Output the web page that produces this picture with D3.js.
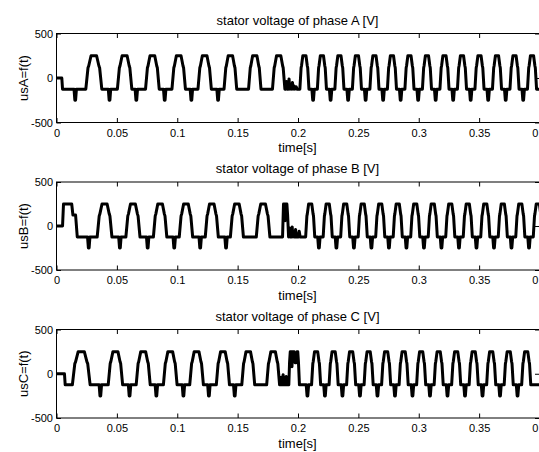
<!DOCTYPE html>
<html>
<head>
<meta charset="utf-8">
<script src="https://cdn.jsdelivr.net/npm/d3@7"></script>
<style>
  body { margin: 0; background: #fff; }
  text { font-family: "Liberation Sans", Arial, Helvetica, sans-serif; fill: #000; }
</style>
</head>
<body>
<div id="chart"></div>
<script>
const width = 539, height = 452;

const xTicks = [0, 0.05, 0.1, 0.15, 0.2, 0.25, 0.3, 0.35, 0.4];
const yTicks = [-500, 0, 500];
const titles = ["stator voltage of phase A [V]", "stator voltage of phase B [V]", "stator voltage of phase C [V]"];
const yLabels = ["usA=f(t)", "usB=f(t)", "usC=f(t)"];
const xLabel = "time[s]";

// voltage levels of the waveform
const vTop = 250, vMid = 125, vLow = -125, vDip = -250;

// phase A
const startA = [[0, 0], [0.0044, 0], [0.0050, -125]];
const peaksA = [0.0309, 0.0564, 0.0794, 0.1012, 0.1227, 0.1440, 0.1642, 0.1840,
  0.2053, 0.2198, 0.2343, 0.2488, 0.2633, 0.2778, 0.2923, 0.3068, 0.3213, 0.3358, 0.3503, 0.3648, 0.3793, 0.3938];
const dipsA = [0.0155, 0.0439, 0.0661, 0.0896, 0.1117, 0.1338,
  0.2125, 0.2270, 0.2415, 0.2560, 0.2705, 0.2850, 0.2995, 0.3140, 0.3285, 0.3430, 0.3575, 0.3720, 0.3865];
const burstA = [[0.1900, -125], [0.1906, -40], [0.1912, -125], [0.1920, -125], [0.1926, -10], [0.1932, -125],
  [0.1940, -80], [0.1946, -125], [0.1954, -50], [0.1960, -125], [0.1968, -90], [0.1975, -125], [0.1985, -100], [0.1992, -125]];

// phase B
const startB = [[0, 0], [0.0050, 0], [0.0058, 250], [0.0126, 250], [0.0136, 125], [0.0158, 125], [0.0172, -125]];
const peaksB = [0.0398, 0.0633, 0.0858, 0.1072, 0.1286, 0.1494, 0.1711,
  0.2101, 0.2246, 0.2391, 0.2536, 0.2681, 0.2826, 0.2971, 0.3116, 0.3261, 0.3406, 0.3551, 0.3696, 0.3841, 0.3986];
const dipsB = [0.0267, 0.0525, 0.0755, 0.0975, 0.1190, 0.1404,
  0.2173, 0.2318, 0.2463, 0.2608, 0.2753, 0.2898, 0.3043, 0.3188, 0.3333, 0.3478, 0.3623, 0.3768, 0.3913];
const burstB = [[0.1872, -125], [0.1880, 250], [0.1888, 250], [0.1893, 60], [0.1898, 250], [0.1908, 250], [0.1914, 125],
  [0.1922, -125], [0.1928, -20], [0.1934, -125], [0.1940, -60], [0.1946, -125], [0.1952, -10], [0.1958, -125],
  [0.1966, -70], [0.1972, -125], [0.1980, -40], [0.1987, -125], [0.1995, -90], [0.2002, -125], [0.2010, -60], [0.2018, -125]];

// phase C
const startC = [[0, 0], [0.0066, 0], [0.0072, -125]];
const peaksC = [0.0205, 0.0488, 0.0718, 0.0942, 0.1160, 0.1378, 0.1588, 0.1794,
  0.2150, 0.2295, 0.2440, 0.2585, 0.2730, 0.2875, 0.3020, 0.3165, 0.3310, 0.3455, 0.3600, 0.3745, 0.3890];
const dipsC = [0.0363, 0.0605, 0.0827, 0.1051, 0.1262, 0.1476,
  0.2078, 0.2223, 0.2368, 0.2513, 0.2658, 0.2803, 0.2948, 0.3093, 0.3238, 0.3383, 0.3528, 0.3673, 0.3818];
const burstC = [[0.1858, -125], [0.1864, -40], [0.1870, -125], [0.1877, -10], [0.1883, -125], [0.1890, -60],
  [0.1896, -125], [0.1903, -30], [0.1910, -125], [0.1918, -80], [0.1924, -125], [0.1930, 125], [0.1936, 250],
  [0.1946, 250], [0.1950, 80], [0.1955, 250], [0.1968, 250], [0.1975, 125], [0.1985, 125], [0.1992, 250],
  [0.1998, 250], [0.2004, 125], [0.2012, -125]];

// turn the read pulse / dip times into a polyline
function buildWave(start, peaks, dips, burst) {
  const pts = start.slice();
  peaks.forEach((c, i) => {
    let gap = i < peaks.length - 1 ? peaks[i + 1] - c : c - peaks[i - 1];
    if (i > 0) gap = Math.min(gap, c - peaks[i - 1]);
    const hw = 0.26 * gap, top = 0.09 * gap, d = hw - top;
    pts.push([c - hw, vLow], [c - hw + 0.42 * d, vMid - 10], [c - hw + 0.55 * d, vMid + 10], [c - top, vTop],
      [c + top, vTop], [c + hw - 0.55 * d, vMid + 10], [c + hw - 0.42 * d, vMid - 10], [c + hw, vLow]);
  });
  dips.forEach(c => {
    pts.push([c - 0.0010, vLow], [c - 0.0003, vDip], [c + 0.0003, vDip], [c + 0.0010, vLow]);
  });
  burst.forEach(p => pts.push(p));
  pts.sort((a, b) => a[0] - b[0]);
  pts.push([0.4, vLow]);
  return pts;
}

const waves = [
  buildWave(startA, peaksA, dipsA, burstA),
  buildWave(startB, peaksB, dipsB, burstB),
  buildWave(startC, peaksC, dipsC, burstC)
];

const left = 56.5, right = 539.5;
const panels = [[33.5, 122.5], [182, 270], [329.5, 418]];

const svg = d3.select('#chart').append('svg')
  .attr('width', width)
  .attr('height', height);

const xScale = d3.scaleLinear().domain([0, 0.4]).range([left, right]);

panels.forEach((p, i) => {
  const [top, bottom] = p;
  const yScale = d3.scaleLinear().domain([-500, 500]).range([bottom, top]);
  const g = svg.append('g');

  g.append('clipPath').attr('id', 'clip' + i)
    .append('rect')
    .attr('x', left).attr('y', top)
    .attr('width', right - left).attr('height', bottom - top);

  const line = d3.line()
    .x(d => xScale(d[0]))
    .y(d => yScale(d[1]));

  g.append('path')
    .datum(waves[i])
    .attr('clip-path', `url(#clip${i})`)
    .attr('fill', 'none')
    .attr('stroke', '#000')
    .attr('stroke-width', 3)
    .attr('stroke-linejoin', 'round')
    .attr('d', line);

  // axes with inward ticks
  g.append('g')
    .attr('transform', `translate(0,${bottom})`)
    .call(d3.axisBottom(xScale).tickValues(xTicks).tickFormat(d => String(d))
      .tickSizeInner(-4.5).tickSizeOuter(0).tickPadding(6.5));
  g.append('g')
    .attr('transform', `translate(0,${top})`)
    .call(d3.axisTop(xScale).tickValues(xTicks).tickFormat('')
      .tickSizeInner(-4.5).tickSizeOuter(0));
  g.append('g')
    .attr('transform', `translate(${left},0)`)
    .call(d3.axisLeft(yScale).tickValues(yTicks).tickFormat(d => String(d))
      .tickSizeInner(-4.5).tickSizeOuter(0).tickPadding(3.5));
  g.append('g')
    .attr('transform', `translate(${right},0)`)
    .call(d3.axisRight(yScale).tickValues(yTicks).tickFormat('')
      .tickSizeInner(-4.5).tickSizeOuter(0));

  g.selectAll('.domain').remove();
  g.selectAll('.tick line').attr('stroke', '#000');
  g.selectAll('.tick text').style('font-size', '11px').attr('fill', '#000');

  g.append('rect')
    .attr('x', left).attr('y', top)
    .attr('width', right - left).attr('height', bottom - top)
    .attr('fill', 'none')
    .attr('stroke', '#000')
    .attr('stroke-width', 1);

  g.append('text')
    .attr('x', (left + right) / 2 - 0.5)
    .attr('y', top - 9)
    .attr('text-anchor', 'middle')
    .style('font-size', '13px')
    .text(titles[i]);

  g.append('text')
    .attr('x', (left + right) / 2 - 0.5)
    .attr('y', bottom + 29.5)
    .attr('text-anchor', 'middle')
    .style('font-size', '13px')
    .text(xLabel);

  g.append('text')
    .attr('transform', `translate(27.5,${(top + bottom) / 2}) rotate(-90)`)
    .attr('text-anchor', 'middle')
    .style('font-size', '13px')
    .text(yLabels[i]);
});
</script>
</body>
</html>
